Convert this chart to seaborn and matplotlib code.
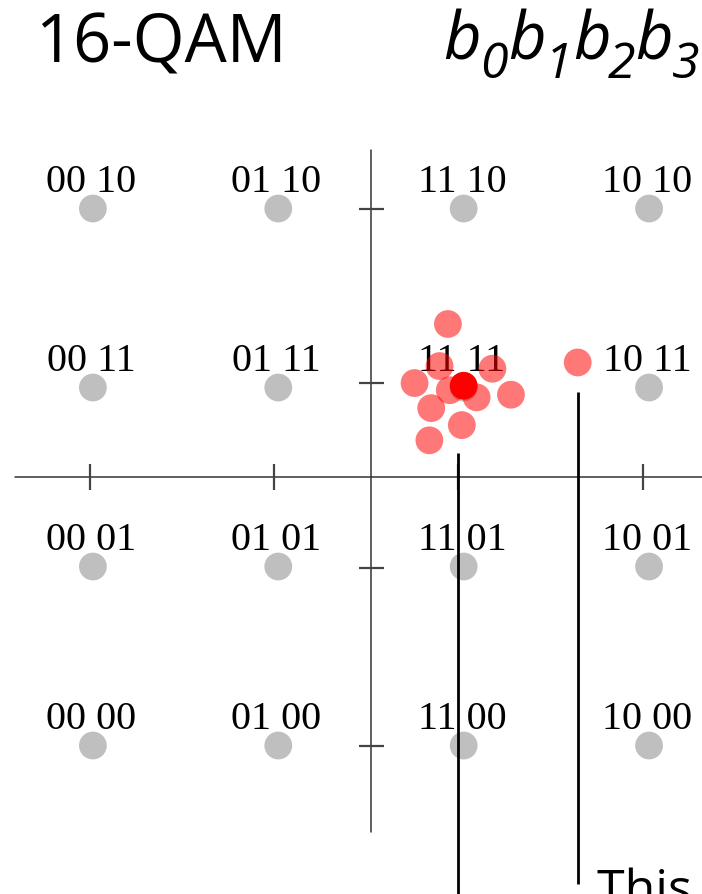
import matplotlib
matplotlib.use("Agg")
import matplotlib.pyplot as plt
import seaborn as sns
import pandas as pd

# constellation grid (in-phase / quadrature levels) and Gray-coded bit pairs
levels = [-3, -1, 1, 3]
i_bits = ["00", "01", "11", "10"]
q_bits = ["00", "01", "11", "10"]

# received noisy samples around the 11 11 symbol (plus one outlier)
rx_i = [0.83, 0.74, 0.47, 0.85, 1.14, 1.31, 1.51, 0.65, 0.98, 0.63, 2.23]
rx_q = [1.71, 1.24, 1.05, 0.97, 0.89, 1.21, 0.92, 0.77, 0.58, 0.41, 1.28]
ideal = (1.0, 1.02)

# axis tick positions
xticks = [-3.03, -1.05, 0.94, 2.93]
yticks = [2.99, 1.05, -1.02, -3.0]

# pointer lines (x, top y)
pointer_x = [0.94, 2.23]
pointer_top = [0.27, 0.95]
pointer_bottom = [-4.7, -4.55]

# header bits b0..b3 (pixel x of each b and its subscript)
bit_names = ["0", "1", "2", "3"]
b_x = [443, 508, 573, 635]
sub_x = [480, 545, 608, 672]

sns.set_style("white")

grid = pd.DataFrame([(i, q, ib + " " + qb)
                     for i, ib in zip(levels, i_bits)
                     for q, qb in zip(levels, q_bits)],
                    columns=["I", "Q", "label"])
rx = pd.DataFrame({"I": rx_i, "Q": rx_q})

fig = plt.figure(figsize=(7.02, 8.94), dpi=100)
ax = fig.add_axes([0, 0, 1, 1])
ax.set_xlim(-4.002, 3.571)
ax.set_ylim(-4.659, 5.33)
ax.axis("off")

# axes cross
ax.plot([-3.84, 3.6], [0, 0], color="#333333", lw=1.1, zorder=1)
ax.plot([0, 0], [3.65, -3.97], color="#333333", lw=1.1, zorder=1)
ax.vlines(xticks, -0.15, 0.14, color="#444444", lw=1.6, zorder=1)
ax.hlines(yticks, -0.13, 0.14, color="#444444", lw=1.6, zorder=1)

sns.scatterplot(data=grid, x="I", y="Q", color="#bfbfbf", s=400,
                edgecolor="none", ax=ax, zorder=2, legend=False)
for _, r in grid.iterrows():
    ax.text(r["I"] - 0.02, r["Q"] + 0.18, r["label"], ha="center",
            va="baseline", fontsize=29, family="Liberation Serif",
            color="black", zorder=3)

sns.scatterplot(data=rx, x="I", y="Q", color="red", alpha=0.53, s=400,
                edgecolor="none", ax=ax, zorder=4, legend=False)
ax.scatter([ideal[0]], [ideal[1]], color="red", s=400, edgecolors="none",
           zorder=5)

ax.vlines(pointer_x, pointer_bottom, pointer_top, color="black", lw=2.0,
          zorder=6)

fig.text(35 / 702, 1 - 62 / 894, "16-QAM", family="Open Sans",
         fontsize=48, va="baseline", ha="left", color="black")
for name, bx, sx in zip(bit_names, b_x, sub_x):
    fig.text(bx / 702, 1 - 60 / 894, "b", family="Open Sans",
             style="italic", fontsize=47, va="baseline", ha="left",
             color="black")
    fig.text(sx / 702, 1 - 78 / 894, name, family="Open Sans",
             style="italic", fontsize=36, va="baseline", ha="left",
             color="black")
fig.text(597 / 702, 1 - 905 / 894, "This is an example", family="Open Sans",
         fontsize=36, va="baseline", ha="left", color="black")

fig.savefig("out.png", dpi=100)
